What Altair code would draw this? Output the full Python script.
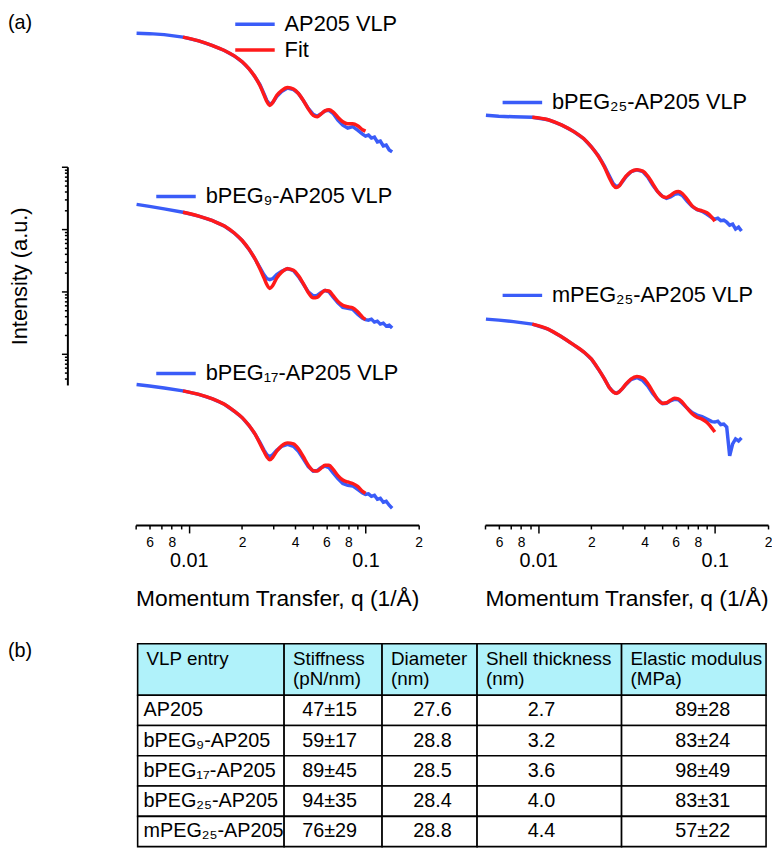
import altair as alt
import pandas as pd

FONT = "Liberation Sans"
BLUE = "#3a5cf8"
RED = "#ff1a1a"
HEAD = "#b0f2fa"

# ---------------- curve data ----------------
# momentum transfer q (1/Å) at which the curves were read
q = [0.00506, 0.00598, 0.00725, 0.00926, 0.01137, 0.01362, 0.01589, 0.01807, 0.02003, 0.02192,
     0.02367, 0.02525, 0.02658, 0.02763, 0.02872, 0.02985, 0.03142, 0.03351, 0.0362, 0.0391,
     0.04171, 0.04446, 0.04742, 0.05058, 0.05324, 0.05606, 0.05902, 0.06214, 0.06541, 0.06976,
     0.07438, 0.07933, 0.08461, 0.09023, 0.09621, 0.1, 0.1039, 0.108, 0.1123, 0.1167,
     0.1213, 0.1261, 0.131, 0.1362, 0.1415]
q_fit = q[3:36]

# log10 intensity (a.u., curves offset vertically)
ap205_data = [6.143, 6.135, 6.119, 6.079, 6.019, 5.944, 5.865, 5.778, 5.683, 5.571,
              5.444, 5.317, 5.175, 5.063, 5.000, 5.032, 5.127, 5.206, 5.262, 5.238,
              5.175, 5.063, 4.937, 4.841, 4.810, 4.849, 4.897, 4.905, 4.857, 4.746,
              4.667, 4.619, 4.643, 4.587, 4.524, 4.492, 4.508, 4.460, 4.476, 4.397,
              4.413, 4.333, 4.349, 4.270, 4.238]
ap205_fit = [6.079, 6.019, 5.944, 5.865, 5.778, 5.683, 5.571, 5.444, 5.302, 5.159,
             5.048, 4.984, 5.032, 5.143, 5.222, 5.270, 5.246, 5.175, 5.063, 4.929,
             4.825, 4.802, 4.849, 4.897, 4.913, 4.881, 4.794, 4.722, 4.690, 4.690,
             4.659, 4.595, 4.571]

bpeg9_data = [3.397, 3.365, 3.325, 3.270, 3.209, 3.135, 3.048, 2.937, 2.817, 2.675,
              2.524, 2.381, 2.270, 2.206, 2.190, 2.206, 2.270, 2.325, 2.365, 2.333,
              2.238, 2.119, 1.992, 1.928, 1.936, 1.984, 2.016, 1.992, 1.913, 1.817,
              1.746, 1.730, 1.714, 1.635, 1.571, 1.548, 1.540, 1.556, 1.508, 1.524,
              1.476, 1.492, 1.444, 1.460, 1.413]
bpeg9_fit = [3.270, 3.209, 3.135, 3.048, 2.937, 2.817, 2.675, 2.524, 2.365, 2.222,
             2.111, 2.048, 2.095, 2.214, 2.310, 2.365, 2.341, 2.254, 2.127, 1.984,
             1.897, 1.905, 1.968, 2.016, 2.008, 1.936, 1.841, 1.778, 1.754, 1.738,
             1.675, 1.587, 1.548]

bpeg17_data = [0.508, 0.484, 0.452, 0.405, 0.349, 0.278, 0.190, 0.079, -0.024, -0.151,
               -0.286, -0.421, -0.540, -0.619, -0.651, -0.619, -0.548, -0.484, -0.453, -0.484,
               -0.564, -0.683, -0.810, -0.881, -0.873, -0.826, -0.802, -0.826, -0.905, -1.000,
               -1.080, -1.111, -1.119, -1.175, -1.231, -1.254, -1.246, -1.286, -1.270, -1.334,
               -1.318, -1.381, -1.365, -1.429, -1.477]
bpeg17_fit = [0.405, 0.349, 0.278, 0.190, 0.079, -0.024, -0.151, -0.286, -0.437, -0.564,
              -0.651, -0.699, -0.659, -0.564, -0.476, -0.429, -0.445, -0.524, -0.651, -0.786,
              -0.873, -0.881, -0.834, -0.786, -0.786, -0.850, -0.953, -1.024, -1.056, -1.080,
              -1.127, -1.207, -1.238]

bpeg25_data = [4.825, 4.809, 4.802, 4.794, 4.754, 4.667, 4.564, 4.452, 4.317, 4.175,
               4.016, 3.857, 3.730, 3.683, 3.698, 3.754, 3.841, 3.921, 3.952, 3.921,
               3.833, 3.706, 3.603, 3.524, 3.492, 3.516, 3.556, 3.571, 3.540, 3.444,
               3.365, 3.310, 3.286, 3.238, 3.183, 3.159, 3.175, 3.135, 3.143, 3.111,
               3.063, 3.079, 3.000, 3.032, 2.968]
bpeg25_fit = [4.794, 4.754, 4.667, 4.564, 4.452, 4.317, 4.167, 4.000, 3.825, 3.706,
              3.667, 3.690, 3.762, 3.849, 3.921, 3.952, 3.929, 3.849, 3.730, 3.603,
              3.524, 3.508, 3.540, 3.587, 3.603, 3.571, 3.476, 3.373, 3.317, 3.294,
              3.262, 3.190, 3.127]

mpeg25_data = [1.556, 1.540, 1.516, 1.476, 1.397, 1.270, 1.143, 1.032, 0.913, 0.754,
               0.603, 0.460, 0.389, 0.365, 0.389, 0.437, 0.508, 0.587, 0.619, 0.571,
               0.484, 0.365, 0.270, 0.198, 0.206, 0.246, 0.270, 0.262, 0.206, 0.127,
               0.056, 0.016, -0.008, -0.048, -0.088, -0.095, -0.080, -0.135, -0.127, -0.175,
               -0.635, -0.444, -0.365, -0.397, -0.349]
mpeg25_fit = [1.476, 1.397, 1.270, 1.143, 1.032, 0.913, 0.754, 0.603, 0.460, 0.389,
              0.365, 0.389, 0.437, 0.516, 0.595, 0.635, 0.611, 0.524, 0.397, 0.270,
              0.206, 0.214, 0.254, 0.286, 0.278, 0.222, 0.127, 0.040, -0.016, -0.048,
              -0.103, -0.191, -0.254]

# legend entries next to the curves
legend_labels = ["AP205 VLP", "Fit", "bPEG₉-AP205 VLP", "bPEG₁₇-AP205 VLP",
                 "bPEG₂₅-AP205 VLP", "mPEG₂₅-AP205 VLP"]
legend_panel = ["left", "left", "left", "left", "right", "right"]
legend_kind = ["data", "fit", "data", "data", "data", "data"]

# ---------------- table data ----------------
entries = ["AP205", "bPEG₉-AP205", "bPEG₁₇-AP205", "bPEG₂₅-AP205", "mPEG₂₅-AP205"]
stiffness = ["47±15", "59±17", "89±45", "94±35", "76±29"]
diameter = ["27.6", "28.8", "28.5", "28.4", "28.8"]
shell = ["2.7", "3.2", "3.6", "4.0", "4.4"]
modulus = ["89±28", "83±24", "98±49", "83±31", "57±22"]
head1 = ["VLP entry", "Stiffness", "Diameter", "Shell thickness", "Elastic modulus"]
head2 = ["", "(pN/nm)", "(nm)", "(nm)", "(MPa)"]

# ---------------- layout (not data) ----------------
legend_pos = [  # q start, q end of the key line, q of the text, log10 I
    (0.01831, 0.03062, 0.03483, 6.286),
    (0.01831, 0.03062, 0.03483, 5.873),
    (0.00654, 0.01094, 0.01245, 3.524),
    (0.00654, 0.01094, 0.01245, 0.683),
    (0.00629, 0.01053, 0.01197, 5.032),
    (0.00629, 0.01053, 0.01197, 1.937),
]
col_edges = [2, 150, 249, 345, 491, 637]
row_edges = [0, 52, 82.6, 113.2, 143.8, 174.4, 205]
body_x = [8, 196, 300, 410, 573]

# ---------------- build tables ----------------
curves = [("left", "AP205", ap205_data, ap205_fit),
          ("left", "bPEG9", bpeg9_data, bpeg9_fit),
          ("left", "bPEG17", bpeg17_data, bpeg17_fit),
          ("right", "bPEG25", bpeg25_data, bpeg25_fit),
          ("right", "mPEG25", mpeg25_data, mpeg25_fit)]
rows = []
for panel, name, d, f in curves:
    assert len(d) == len(q) and len(f) == len(q_fit)
    for qq, v in zip(q, d):
        rows.append({"panel": panel, "sample": name, "kind": "data", "q": qq, "I": 10 ** v})
    for qq, v in zip(q_fit, f):
        rows.append({"panel": panel, "sample": name, "kind": "fit", "q": qq, "I": 10 ** v})
df = pd.DataFrame(rows)

leg = pd.DataFrame({
    "label": legend_labels, "panel": legend_panel,
    "color": [BLUE if k == "data" else RED for k in legend_kind],
    "q": [p[0] for p in legend_pos], "q2": [p[1] for p in legend_pos],
    "qt": [p[2] for p in legend_pos], "I": [10 ** p[3] for p in legend_pos],
})

cells = []
for r in range(6):
    for c in range(5):
        cells.append({"x": col_edges[c], "x2": col_edges[c + 1], "y": row_edges[r],
                      "y2": row_edges[r + 1], "fill": HEAD if r == 0 else "white"})
cells = pd.DataFrame(cells)

txt_left, txt_center = [], []
for c in range(5):
    txt_left.append({"x": col_edges[c] + 9, "y": 15, "t": head1[c], "s": 19})
    if head2[c]:
        txt_left.append({"x": col_edges[c] + 9, "y": 36, "t": head2[c], "s": 19})
cols = [entries, stiffness, diameter, shell, modulus]
for r in range(5):
    yc = (row_edges[r + 1] + row_edges[r + 2]) / 2
    txt_left.append({"x": body_x[0], "y": yc, "t": entries[r], "s": 20})
    for c in range(1, 5):
        txt_center.append({"x": body_x[c], "y": yc, "t": cols[c][r], "s": 20})
txt_left = pd.DataFrame(txt_left)
txt_center = pd.DataFrame(txt_center)

# ---------------- scales / axes ----------------
X_TICKS = [0.005, 0.006, 0.007, 0.008, 0.009, 0.01, 0.02, 0.03, 0.04, 0.05,
           0.06, 0.07, 0.08, 0.09, 0.1, 0.2]
X_TEXT = ["", "6", "", "8", "", "0.01", "2", "", "4", "", "6", "", "8", "", "0.1", "2"]
label_expr = "''"
for v, t in reversed(list(zip(X_TICKS, X_TEXT))):
    if t:
        label_expr = f"datum.value == {v} ? '{t}' : ({label_expr})"
MAJOR = "datum.value == 0.01 || datum.value == 0.1"

Y_DOMAIN = [10 ** 0.5, 10 ** 4]
Y_TICKS = [m * 10 ** e for e in range(0, 4) for m in range(1, 10) if m * 10 ** e >= 4] + [10000]
YMAJOR = "abs(log(datum.value) / LN10 - round(log(datum.value) / LN10)) < 1e-6"

xL = alt.Scale(type="log", domain=[0.005, 0.2], range=[0, 286], nice=False)
xR = alt.Scale(type="log", domain=[0.005, 0.2], range=[353, 639], nice=False)
ys = alt.Scale(type="log", domain=Y_DOMAIN, range=[358.5, 138], nice=False)


def x_axis():
    return alt.Axis(
        orient="bottom", values=X_TICKS, labelExpr=label_expr, grid=False,
        title="Momentum Transfer, q (1/Å)", titleFont=FONT, titleFontSize=23,
        titleFontWeight="normal", titleColor="black", titlePadding=17,
        labelFont=FONT, labelColor="black", labelBaseline="middle",
        labelFontSize={"condition": {"test": MAJOR, "value": 20}, "value": 14},
        labelPadding={"condition": {"test": MAJOR, "value": 28}, "value": 14},
        tickSize={"condition": {"test": MAJOR, "value": 8}, "value": 4},
        tickWidth=1.5, tickColor="black", domainColor="black", domainWidth=2,
        labelOverlap=False, labelFlush=False)


y_axis = alt.Axis(
    orient="left", offset=69, values=Y_TICKS, labels=False, grid=False,
    tickSize={"condition": {"test": YMAJOR, "value": 6}, "value": 3},
    tickWidth=1.5, tickColor="black", domainColor="black", domainWidth=2,
    title="Intensity (a.u.)", titleFont=FONT, titleFontSize=22, titleFontWeight="normal",
    titleColor="black", titlePadding=30)

layers = []
for panel, xs in (("left", xL), ("right", xR)):
    sub = df[(df.panel == panel) & (df.kind == "data")]
    layers.append(alt.Chart(sub).mark_line(color=BLUE, strokeWidth=3.5).encode(
        x=alt.X("q:Q", scale=xs, axis=x_axis()),
        y=alt.Y("I:Q", scale=ys, axis=y_axis if panel == "left" else None),
        detail="sample:N"))
for panel, xs in (("left", xL), ("right", xR)):
    sub = df[(df.panel == panel) & (df.kind == "fit")]
    layers.append(alt.Chart(sub).mark_line(color=RED, strokeWidth=3.5, interpolate="monotone").encode(
        x=alt.X("q:Q", scale=xs, axis=None),
        y=alt.Y("I:Q", scale=ys, axis=None),
        detail="sample:N"))
for panel, xs in (("left", xL), ("right", xR)):
    sub = leg[leg.panel == panel]
    layers.append(alt.Chart(sub).mark_rule(strokeWidth=3.5).encode(
        x=alt.X("q:Q", scale=xs, axis=None), x2="q2:Q",
        y=alt.Y("I:Q", scale=ys, axis=None),
        color=alt.Color("color:N", scale=None)))
    layers.append(alt.Chart(sub).mark_text(align="left", baseline="middle", fontSize=22,
                                           font=FONT, color="black").encode(
        x=alt.X("qt:Q", scale=xs, axis=None),
        y=alt.Y("I:Q", scale=ys, axis=None),
        text="label:N"))

tx = alt.Scale(domain=[0, 640], range=[0, 640], nice=False, zero=False)
ty = alt.Scale(domain=[0, 205], range=[620, 825], nice=False, zero=False)
layers.append(alt.Chart(cells).mark_rect(stroke="black", strokeWidth=1.6).encode(
    x=alt.X("x:Q", scale=tx, axis=None), x2="x2:Q",
    y=alt.Y("y:Q", scale=ty, axis=None), y2="y2:Q",
    fill=alt.Fill("fill:N", scale=None)))
layers.append(alt.Chart(txt_left).mark_text(align="left", baseline="middle", font=FONT,
                                            color="black").encode(
    x=alt.X("x:Q", scale=tx, axis=None), y=alt.Y("y:Q", scale=ty, axis=None),
    text="t:N", size=alt.Size("s:Q", scale=None)))
layers.append(alt.Chart(txt_center).mark_text(align="center", baseline="middle", font=FONT,
                                              color="black").encode(
    x=alt.X("x:Q", scale=tx, axis=None), y=alt.Y("y:Q", scale=ty, axis=None),
    text="t:N", size=alt.Size("s:Q", scale=None)))
layers.append(alt.Chart(pd.DataFrame({"t": ["(a)"]})).mark_text(
    align="left", baseline="middle", fontSize=20, font=FONT, color="black").encode(
    x=alt.value(-129), y=alt.value(-7), text="t:N"))
layers.append(alt.Chart(pd.DataFrame({"t": ["(b)"]})).mark_text(
    align="left", baseline="middle", fontSize=20, font=FONT, color="black").encode(
    x=alt.value(-129), y=alt.value(627), text="t:N"))

chart = alt.layer(*layers).resolve_scale(x="independent", y="independent").properties(
    width=286, height=500, padding=0, background="white"
).configure_view(stroke=None)

chart.save("out.html", embed_options={"renderer": "svg", "actions": False})
